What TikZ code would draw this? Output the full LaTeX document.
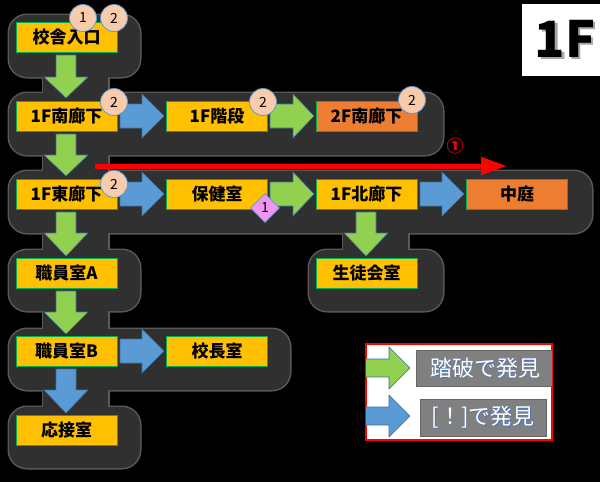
\documentclass[tikz,border=0pt]{standalone}
\usepackage{fontspec}
\setmainfont{Noto Sans CJK JP}
\usetikzlibrary{arrows.meta,shapes.geometric}
\definecolor{boxy}{RGB}{255,192,0}
\definecolor{boxo}{RGB}{237,125,49}
\definecolor{boxedge}{RGB}{0,176,80}
\definecolor{agreen}{RGB}{146,208,80}
\definecolor{ablue}{RGB}{91,155,213}
\definecolor{aedge}{RGB}{65,113,156}
\definecolor{peach}{RGB}{248,203,173}
\definecolor{pinkd}{RGB}{240,150,240}
\definecolor{blobfill}{RGB}{48,48,48}
\definecolor{blobedge}{RGB}{90,90,90}
\definecolor{legendgray}{RGB}{128,128,128}
\definecolor{legendtxt}{RGB}{70,120,200}
\newcommand{\shadowed}[4]{\makebox[0pt][l]{\hspace{#2}\raisebox{-#2}{\color{#3}#1}}\color{#4}#1}
\newcommand{\blockR}[5]{\filldraw[fill=#5,draw=aedge,line width=0.6pt] (#1,#4-12) -- (#2,#4-12) -- (#2,#4-22) -- (#3,#4) -- (#2,#4+22) -- (#2,#4+12) -- (#1,#4+12) -- cycle;}
\newcommand{\blockD}[5]{\filldraw[fill=#5,draw=aedge,line width=0.6pt] (#1-10,#2) -- (#1+10,#2) -- (#1+10,#3) -- (#1+22,#3) -- (#1,#4) -- (#1-22,#3) -- (#1-10,#3) -- cycle;}
\newcommand{\blobset}[1]{%
  \foreach \a/\b/\c/\d/\r in {9/15/140/77/18, 9/93/443/155/18, 9/171/592/233/18, 9/250/140/311/18, 9/329/290/390/18, 9/407/140/468/18, 309/250/443/311/18, 43/70/108/100/0, 43/150/108/176/0, 43/228/108/255/0, 43/305/108/334/0, 43/385/108/412/0, 343/228/408/255/0}{\path[#1, rounded corners=\r] (\a,\b) rectangle (\c,\d);}}
\begin{document}
\begin{tikzpicture}[x=1pt,y=-1pt,
  box/.style={draw=boxedge, line width=0.8pt, fill=boxy, minimum width=101pt, minimum height=30pt, inner sep=0pt, font=\fontsize{17}{17}\selectfont\bfseries, text=black},
  obox/.style={box, fill=boxo},
  badge/.style={circle, draw=ablue, line width=0.8pt, fill=peach, minimum size=27pt, inner sep=0pt, font=\fontsize{14}{14}\selectfont, text=black},
  pinkbadge/.style={diamond, draw=ablue, line width=0.6pt, fill=pinkd, minimum size=29pt, inner sep=0pt, font=\fontsize{14}{14}\selectfont, text=black},
  legtext/.style={font=\fontsize{22}{22}\selectfont},
  graybox/.style={draw=black!60, line width=0.6pt, fill=legendgray}]
% background
\fill[black] (0,0) rectangle (600,482);
\useasboundingbox (0,0) rectangle (600,482);
% dark blobs
\blobset{draw=blobedge, line width=3pt}
\blobset{fill=blobfill}
% 1F label
\node[fill=white, minimum width=78pt, minimum height=72pt, inner sep=0pt] (flbox) at (561,40) {};
\node[font=\fontsize{50}{50}\selectfont\bfseries] (fl) at (565,40) {\shadowed{1F}{2.5pt}{black!35}{black}};
% arrows
\blockD{66}{55}{77}{98}{agreen}
\blockD{66}{134}{155}{176}{agreen}
\blockD{66}{212}{233}{256}{agreen}
\blockD{66}{291}{312}{334}{agreen}
\blockD{66}{369}{390}{413}{ablue}
\blockD{366}{212}{233}{256}{agreen}
\blockR{120}{142}{164}{116}{ablue}
\blockR{270}{293}{314}{116}{agreen}
\blockR{120}{142}{164}{194}{ablue}
\blockR{270}{293}{314}{194}{agreen}
\blockR{420}{442}{464}{194}{ablue}
\blockR{120}{142}{164}{351}{ablue}
% boxes
\node[box] (kousha) at (66.5,37.5) {校舎入口};
\node[box] (minami1) at (66.5,116) {1F南廊下};
\node[box] (kaidan) at (217,116) {1F階段};
\node[obox] (minami2) at (366.5,116) {2F南廊下};
\node[box] (higashi) at (66.5,194) {1F東廊下};
\node[box] (hoken) at (217,194) {保健室};
\node[box] (kita) at (366.5,194) {1F北廊下};
\node[obox] (nakaniwa) at (517,194) {中庭};
\node[box] (seito) at (366.5,273) {生徒会室};
\node[box] (shokuA) at (66.5,273) {職員室A};
\node[box] (shokuB) at (66.5,351.5) {職員室B};
\node[box] (kocho) at (217,351.5) {校長室};
\node[box] (osetsu) at (66.5,430) {応接室};
% badges
\node[badge] (b1) at (83,18) {1};
\node[badge] (b2) at (114,18) {2};
\node[badge] (b3) at (114,102) {2};
\node[badge] (b4) at (263,102) {2};
\node[badge] (b5) at (412,100) {2};
\node[badge] (b6) at (114,184) {2};
\node[pinkbadge] (d1) at (265,208) {1};
% red route
\coordinate (rs) at (95,166);
\coordinate (re) at (507,166);
\draw[red, line width=5pt, -{Triangle[length=26pt,width=17pt]}] (rs) -- (re);
\node[text=red, font=\fontsize{17}{17}\selectfont\bfseries] (r1) at (455,146) {①};
% legend
\node[draw=red, line width=1.2pt, fill=white, minimum width=186pt, minimum height=96pt, inner sep=0pt] (legend) at (459,392) {};
\begin{scope}
\clip (366,344) rectangle (552,440);
\filldraw[fill=agreen,draw=aedge,line width=0.6pt] (360,359) -- (389,359) -- (389,347) -- (410,368) -- (389,389) -- (389,377) -- (360,377) -- cycle;
\filldraw[fill=ablue,draw=aedge,line width=0.6pt] (360,407) -- (389,407) -- (389,395) -- (410,416) -- (389,437) -- (389,425) -- (360,425) -- cycle;
\node[graybox, minimum width=140pt, minimum height=36pt, inner sep=0pt] (g1) at (486,368) {};
\end{scope}
\node[graybox, minimum width=126pt, minimum height=37pt, inner sep=0pt] (g2) at (483,417.5) {};
\node[legtext] (t1) at (485,369) {\shadowed{踏破で発見}{0.8pt}{legendtxt}{white}};
\node[legtext] (t2) at (483,418) {\shadowed{[！]で発見}{0.8pt}{legendtxt}{white}};
\end{tikzpicture}
\end{document}
